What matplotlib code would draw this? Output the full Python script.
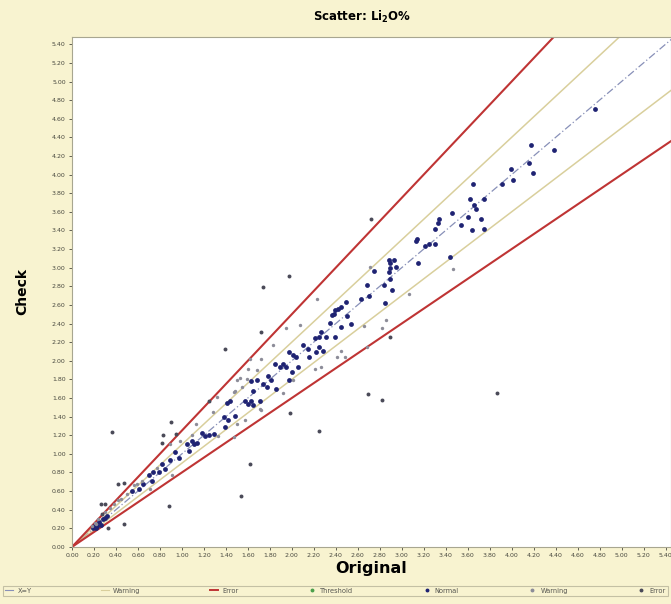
import numpy as np
import matplotlib
matplotlib.use("Agg")
import matplotlib.pyplot as plt
from matplotlib.lines import Line2D

# values (Original, Check)
original = [
    0.18, 0.19, 0.20, 0.22, 0.22, 0.25, 0.26, 0.28, 0.30, 0.32,
    0.21, 0.23, 0.24, 0.27, 0.30, 0.35, 0.38, 0.42, 0.45, 0.50,
    0.55, 0.59, 0.64, 0.70, 0.74, 0.77, 0.82, 0.89, 0.97, 0.94,
    1.06, 1.05, 1.11, 1.14, 0.82, 0.89, 0.98, 1.09, 0.83, 0.56,
    0.61, 0.65, 0.79, 0.73, 0.85, 0.95, 1.09,
    0.26, 0.30, 0.42, 0.47, 0.47, 0.33, 0.71, 0.91, 0.90,
    1.13, 1.21, 1.25, 1.29, 1.33, 1.18, 1.39, 1.50, 1.42, 1.38,
    1.48, 1.28, 1.25, 1.32, 1.41, 1.44, 1.57, 1.60, 1.65, 1.47,
    1.48, 1.55, 1.50, 1.53, 1.59, 1.63, 1.60, 1.68, 1.62, 1.72,
    1.71, 1.47, 1.57, 1.39, 1.63, 1.72, 1.71, 1.65,
    1.68, 1.74, 1.77, 1.81, 1.78, 1.86, 1.92, 1.97, 2.01, 1.98,
    1.85, 1.89, 1.92, 1.95, 2.00, 2.06, 1.97, 2.01, 2.04, 1.83,
    1.72, 1.95, 2.07, 2.10, 2.15, 2.16, 2.22, 2.28, 2.25, 2.21,
    2.27, 2.21, 2.25, 2.31, 2.27, 2.39, 2.41, 2.48, 2.45, 2.35,
    2.37, 2.38, 2.39, 2.42, 2.45, 2.49, 2.50, 2.45, 2.54, 2.66,
    2.68, 2.82, 2.86, 2.89,
    1.74, 1.97, 2.23, 2.25, 1.54, 1.62, 3.87, 2.69, 2.82, 0.36,
    0.88, 2.72,
    2.63, 2.70, 2.68, 2.84, 2.91, 3.07, 2.85, 2.71, 2.75, 2.88,
    2.89, 2.88, 2.93, 2.89, 2.95, 2.89, 3.13, 3.15, 3.21, 3.25,
    3.30, 3.44, 3.47, 3.14, 3.30, 3.33, 3.34, 3.46, 3.54, 3.60,
    3.64, 3.75, 3.72, 3.66, 3.68, 3.62, 3.75, 3.65, 3.91, 3.99,
    4.01, 4.16, 4.19, 4.18, 4.39, 4.76,
]
check = [
    0.22, 0.20, 0.22, 0.25, 0.20, 0.27, 0.24, 0.30, 0.31, 0.33,
    0.26, 0.23, 0.30, 0.35, 0.37, 0.42, 0.46, 0.50, 0.51, 0.57,
    0.60, 0.68, 0.71, 0.77, 0.80, 0.85, 0.89, 0.93, 0.96, 1.02,
    1.03, 1.11, 1.11, 1.12, 1.12, 1.11, 1.14, 1.20, 1.20, 0.66,
    0.62, 0.68, 0.80, 0.71, 0.84, 1.21, 1.14,
    0.46, 0.46, 0.68, 0.69, 0.25, 0.20, 0.62, 0.77, 1.34,
    1.32, 1.19, 1.20, 1.21, 1.19, 1.22, 1.29, 1.32, 1.36, 1.40,
    1.41, 1.45, 1.57, 1.61, 1.55, 1.57, 1.57, 1.54, 1.52, 1.66,
    1.68, 1.72, 1.79, 1.82, 1.80, 1.78, 1.91, 1.90, 2.02, 2.02,
    1.48, 1.18, 1.36, 2.13, 1.57, 1.47, 1.57, 1.68,
    1.79, 1.75, 1.72, 1.79, 1.84, 1.70, 1.65, 1.79, 1.79, 1.44,
    1.97, 1.93, 1.97, 1.93, 1.88, 1.93, 2.09, 2.06, 2.04, 2.17,
    2.31, 2.35, 2.38, 2.17, 2.13, 2.04, 2.09, 2.11, 2.15, 1.91,
    1.93, 2.24, 2.26, 2.26, 2.31, 2.26, 2.04, 2.04, 2.11, 2.41,
    2.49, 2.50, 2.54, 2.56, 2.58, 2.63, 2.48, 2.36, 2.39, 2.37,
    2.15, 2.35, 2.44, 2.26,
    2.79, 2.91, 2.66, 1.25, 0.55, 0.89, 1.65, 1.64, 1.58, 1.23,
    0.44, 3.52,
    2.66, 2.70, 2.81, 2.81, 2.76, 2.72, 2.62, 3.01, 2.96, 2.95,
    2.88, 3.08, 3.08, 3.05, 3.01, 3.00, 3.29, 3.05, 3.23, 3.25,
    3.25, 3.11, 2.99, 3.31, 3.42, 3.48, 3.52, 3.59, 3.46, 3.54,
    3.41, 3.42, 3.52, 3.67, 3.63, 3.74, 3.74, 3.90, 3.90, 4.06,
    3.94, 4.12, 4.02, 4.32, 4.26, 4.70,
]

warn_hi, warn_lo = 1.1, 0.9
err_hi, err_lo = 1.25, 0.8
ticks = np.arange(0, 5.41, 0.2)

bg = "#f8f3d0"
navy = "#1f2373"
grey = "#8c8c98"
dark = "#4a4a58"
red = "#bf3434"
khaki = "#d9cf9c"

x = np.array(original)
y = np.array(check)
ratio = y / x
normal = (ratio >= warn_lo) & (ratio <= warn_hi)
warning = ~normal & (ratio >= err_lo) & (ratio <= err_hi)
error = ~normal & ~warning

fig = plt.figure(figsize=(6.71, 6.04), dpi=100, facecolor=bg)
ax = fig.add_axes([0.1073, 0.0945, 0.8927, 0.8445])
ax.set_facecolor("white")

xx = np.array([0, 6])
ax.plot(xx, xx, color="#8890b8", lw=0.9, ls=(0, (6, 2, 1, 2)), zorder=2)
ax.plot(xx, warn_hi * xx, color=khaki, lw=1.1, zorder=2)
ax.plot(xx, warn_lo * xx, color=khaki, lw=1.1, zorder=2)
ax.plot(xx, err_hi * xx, color=red, lw=1.5, zorder=2)
ax.plot(xx, err_lo * xx, color=red, lw=1.5, zorder=2)

ax.scatter(x[normal], y[normal], s=12, color=navy, zorder=4, linewidths=0)
ax.scatter(x[warning], y[warning], s=6, color=grey, zorder=4, linewidths=0)
ax.scatter(x[error], y[error], s=8, color=dark, zorder=4, linewidths=0)

ax.set_xlim(0, 5.45)
ax.set_ylim(0, 5.48)
ax.set_xticks(ticks)
ax.set_yticks(ticks)
ax.set_xticklabels(["%.2f" % t for t in ticks])
ax.set_yticklabels(["%.2f" % t for t in ticks])
ax.tick_params(labelsize=4.5, colors="#48483f", length=2.5, width=0.6, pad=2)
for s in ax.spines.values():
    s.set_color("#a8a690")
    s.set_linewidth(0.8)

ax.set_xlabel("Original", fontsize=11.5, fontweight="bold", labelpad=2)
ax.set_ylabel("Check", fontsize=10, fontweight="bold", labelpad=16)
fig.text(0.54, 0.972, r"Scatter: Li$_\mathbf{2}$O%", ha="center", va="center",
         fontsize=8.5, fontweight="bold")

handles = [
    Line2D([], [], color="#8890b8", lw=0.8, ls="-"),
    Line2D([], [], color=khaki, lw=0.8),
    Line2D([], [], color=red, lw=1.4),
    Line2D([], [], color="#4ca04c", lw=0, marker="o", ms=1.8),
    Line2D([], [], color=navy, lw=0, marker="o", ms=1.8),
    Line2D([], [], color=grey, lw=0, marker="o", ms=1.8),
    Line2D([], [], color=dark, lw=0, marker="o", ms=1.8),
]
labels = ["X=Y", "Warning", "Error", "Threshold", "Normal", "Warning", "Error"]
leg = fig.legend(handles, labels, loc="center", ncol=7, mode="expand",
                 bbox_to_anchor=(0.0, 0.008, 1.0, 0.028), fontsize=4.8,
                 frameon=True, fancybox=False, facecolor=bg, edgecolor="#b8b49a",
                 handlelength=1.2, handletextpad=0.6, borderpad=0.3)
leg.get_frame().set_linewidth(0.8)
for t in leg.get_texts():
    t.set_color("#555550")

fig.savefig("out.png", dpi=100, facecolor=bg)
